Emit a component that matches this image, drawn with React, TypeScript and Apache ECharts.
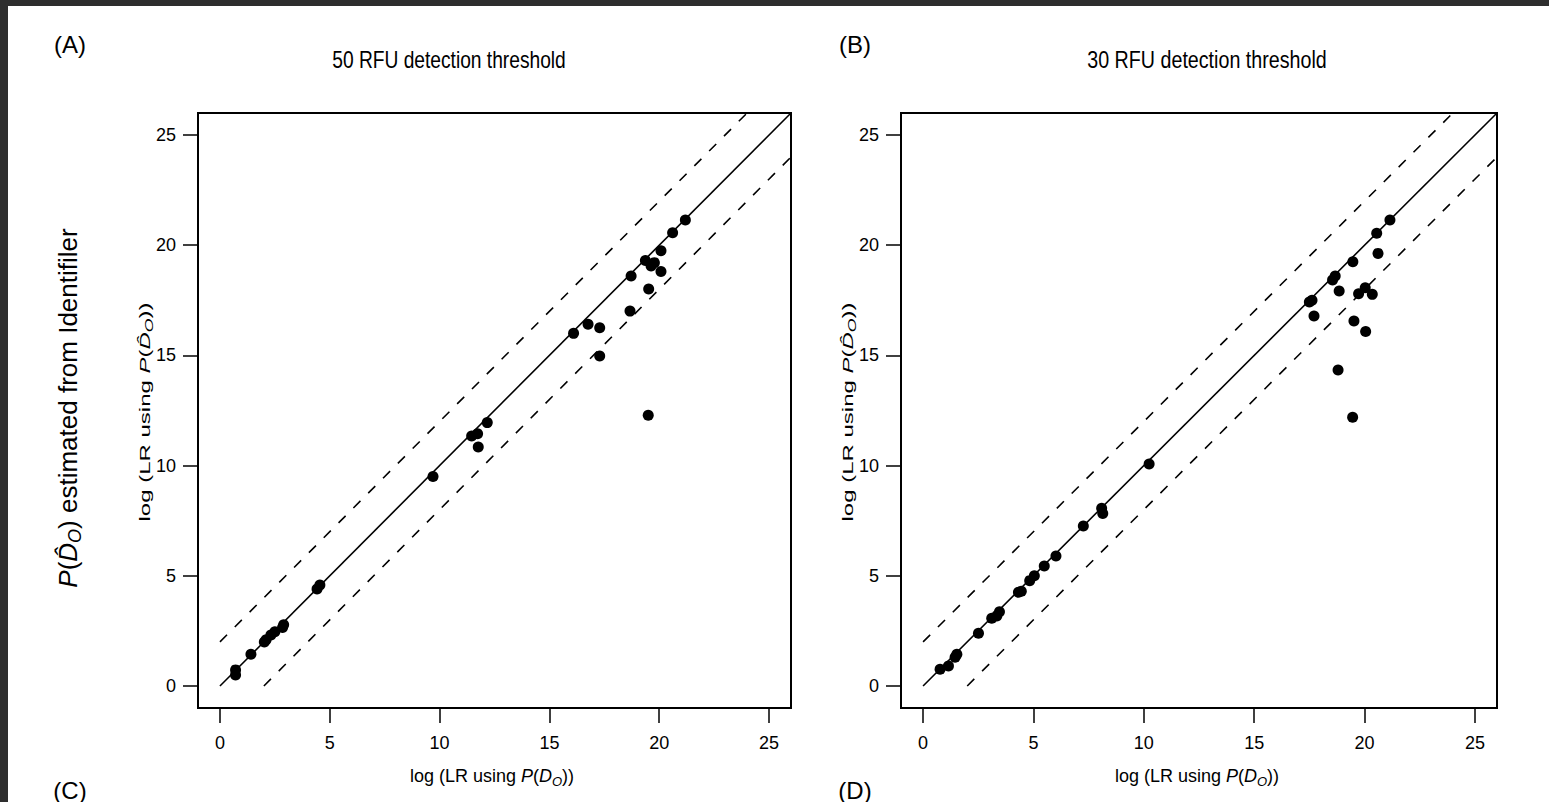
import React, { useEffect, useRef } from "react";
import * as echarts from "echarts";

const FONT = "'Liberation Sans', Arial, Helvetica, sans-serif";

const tickValues = [0, 5, 10, 15, 20, 25];
const axisMin = -1;
const axisMax = 26;
const panelTitles = ["50 RFU detection threshold", "30 RFU detection threshold"];
const panelLetters = ["(A)", "(B)", "(C)", "(D)"];

// reference lines: y = x, y = x + 2, y = x - 2
const identityLine = [[0, 0], [26, 26]];
const upperBand = [[0, 2], [24, 26]];
const lowerBand = [[2, 0], [26, 24]];

// Panel A: 50 RFU detection threshold  [log LR using P(Do), log LR using P(D^o)]
const pointsA = [
  [0.71, 0.73], [0.71, 0.5], [1.41, 1.44], [2.02, 2.0], [2.1, 2.1], [2.32, 2.31],
  [2.5, 2.46], [2.85, 2.65], [2.9, 2.78], [4.42, 4.4], [4.55, 4.58], [9.7, 9.5],
  [11.46, 11.34], [11.73, 11.45], [11.76, 10.84], [12.17, 11.95], [16.1, 16.0],
  [16.76, 16.41], [17.29, 16.26], [17.29, 14.97], [18.67, 17.01], [18.72, 18.6],
  [19.37, 19.31], [19.52, 18.01], [19.5, 12.28], [19.63, 19.06], [19.78, 19.21],
  [20.08, 19.75], [20.08, 18.81], [20.61, 20.57], [21.19, 21.14],
];

// Panel B: 30 RFU detection threshold
const pointsB = [
  [0.77, 0.76], [1.15, 0.91], [1.45, 1.3], [1.53, 1.44], [2.51, 2.39], [3.11, 3.07],
  [3.34, 3.18], [3.46, 3.37], [4.32, 4.25], [4.45, 4.3], [4.83, 4.78], [5.04, 5.0],
  [5.49, 5.44], [6.02, 5.9], [7.26, 7.26], [8.09, 8.06], [8.14, 7.83], [10.24, 10.07],
  [17.5, 17.42], [17.62, 17.5], [17.71, 16.79], [18.55, 18.42], [18.67, 18.6],
  [18.85, 17.92], [18.8, 14.34], [19.46, 12.19], [19.47, 19.25], [19.52, 16.56],
  [19.73, 17.8], [20.03, 18.07], [20.05, 16.08], [20.35, 17.77], [20.55, 20.54],
  [20.61, 19.63], [21.15, 21.14],
];

const panels = [pointsA, pointsB];

export default function App() {
  const ref = useRef<HTMLDivElement>(null);

  useEffect(() => {
    if (!ref.current) return;
    const chart = echarts.init(ref.current, null, { renderer: "svg" });

    const grids = [
      { left: 198, top: 113, width: 593, height: 595 },
      { left: 901, top: 113, width: 596, height: 595 },
    ];

    const axisCommon = (i: number, margin: number) => ({
      type: "value",
      gridIndex: i,
      min: axisMin,
      max: axisMax,
      axisLine: { show: false, onZero: false },
      splitLine: { show: false },
      axisTick: {
        show: true,
        inside: false,
        customValues: tickValues,
        length: 15,
        lineStyle: { color: "#000", width: 1.5 },
      },
      axisLabel: {
        customValues: tickValues,
        fontSize: 18,
        color: "#000",
        margin,
        fontFamily: FONT,
      },
    });

    const xAxes = grids.map((_, i) => ({ ...axisCommon(i, 26), position: "bottom" }));
    const yAxes = grids.map((_, i) => ({ ...axisCommon(i, 22), position: "left" }));

    const series: any[] = [];
    panels.forEach((pts, i) => {
      series.push({
        type: "line",
        xAxisIndex: i,
        yAxisIndex: i,
        data: identityLine,
        symbol: "none",
        silent: true,
        clip: true,
        lineStyle: { color: "#000", width: 1.6 },
      });
      [upperBand, lowerBand].forEach((band) =>
        series.push({
          type: "line",
          xAxisIndex: i,
          yAxisIndex: i,
          data: band,
          symbol: "none",
          silent: true,
          clip: true,
          lineStyle: { color: "#000", width: 1.6, type: [10, 11] },
        })
      );
      series.push({
        type: "scatter",
        xAxisIndex: i,
        yAxisIndex: i,
        data: pts,
        symbol: "circle",
        symbolSize: 11,
        itemStyle: { color: "#000", opacity: 1 },
      });
    });

    const richBase = (size: number) => ({
      i: { fontStyle: "italic", fontSize: size, fontFamily: FONT, fill: "#000" },
      s: {
        fontStyle: "italic",
        fontSize: Math.round(size * 0.7),
        fontFamily: FONT,
        fill: "#000",
        padding: [Math.round(size * 0.55), 0, 0, 0],
      },
      n: { fontSize: size, fontFamily: FONT, fill: "#000" },
    });

    const text = (x: number, y: number, t: string, size: number, extra: any = {}) => ({
      type: "text",
      x,
      y,
      silent: true,
      style: {
        text: t,
        fontSize: size,
        fontFamily: FONT,
        fill: "#000",
        align: "center",
        verticalAlign: "middle",
        ...extra,
      },
    });

    const xLabel = "{n|log (LR using }{i|P}{n|(}{i|D}{s|O}{n|))}";
    const yLabel = "{n|log (LR using }{i|P}{n|(}{i|D\u0302}{s|O}{n|))}";
    const bigY = "{i|P}{n|(}{i|D\u0302}{s|O}{n|) estimated from Identifiler}";

    const graphic: any[] = [
      { type: "rect", shape: { x: 0, y: 0, width: 8, height: 802 }, style: { fill: "#2e2e2e" }, silent: true },
      { type: "rect", shape: { x: 0, y: 0, width: 1549, height: 6 }, style: { fill: "#2e2e2e" }, silent: true },
      text(70, 44, panelLetters[0], 24),
      text(855, 44, panelLetters[1], 24),
      text(70, 790, panelLetters[2], 24),
      text(855, 790, panelLetters[3], 24),
      { ...text(449, 60, panelTitles[0], 24), scaleX: 0.8 },
      { ...text(1207, 60, panelTitles[1], 24), scaleX: 0.82 },
      text(492, 776, xLabel, 18, { rich: richBase(18) }),
      text(1197, 776, xLabel, 18, { rich: richBase(18) }),
      { ...text(145, 412, yLabel, 15, { rich: richBase(15) }), rotation: Math.PI / 2, scaleX: 1.6 },
      { ...text(848, 412, yLabel, 15, { rich: richBase(15) }), rotation: Math.PI / 2, scaleX: 1.6 },
      { ...text(68, 408, bigY, 26, { rich: richBase(26) }), rotation: Math.PI / 2 },
    ];

    chart.setOption({
      animation: false,
      backgroundColor: "#fff",
      grid: grids.map((g) => ({
        ...g,
        show: true,
        borderColor: "#000",
        borderWidth: 2,
        backgroundColor: "transparent",
        containLabel: false,
      })),
      xAxis: xAxes,
      yAxis: yAxes,
      series,
      graphic,
    });

    return () => chart.dispose();
  }, []);

  return (
    <div
      ref={ref}
      style={{ position: "absolute", left: 0, top: 0, width: 1549, height: 802 }}
    />
  );
}
